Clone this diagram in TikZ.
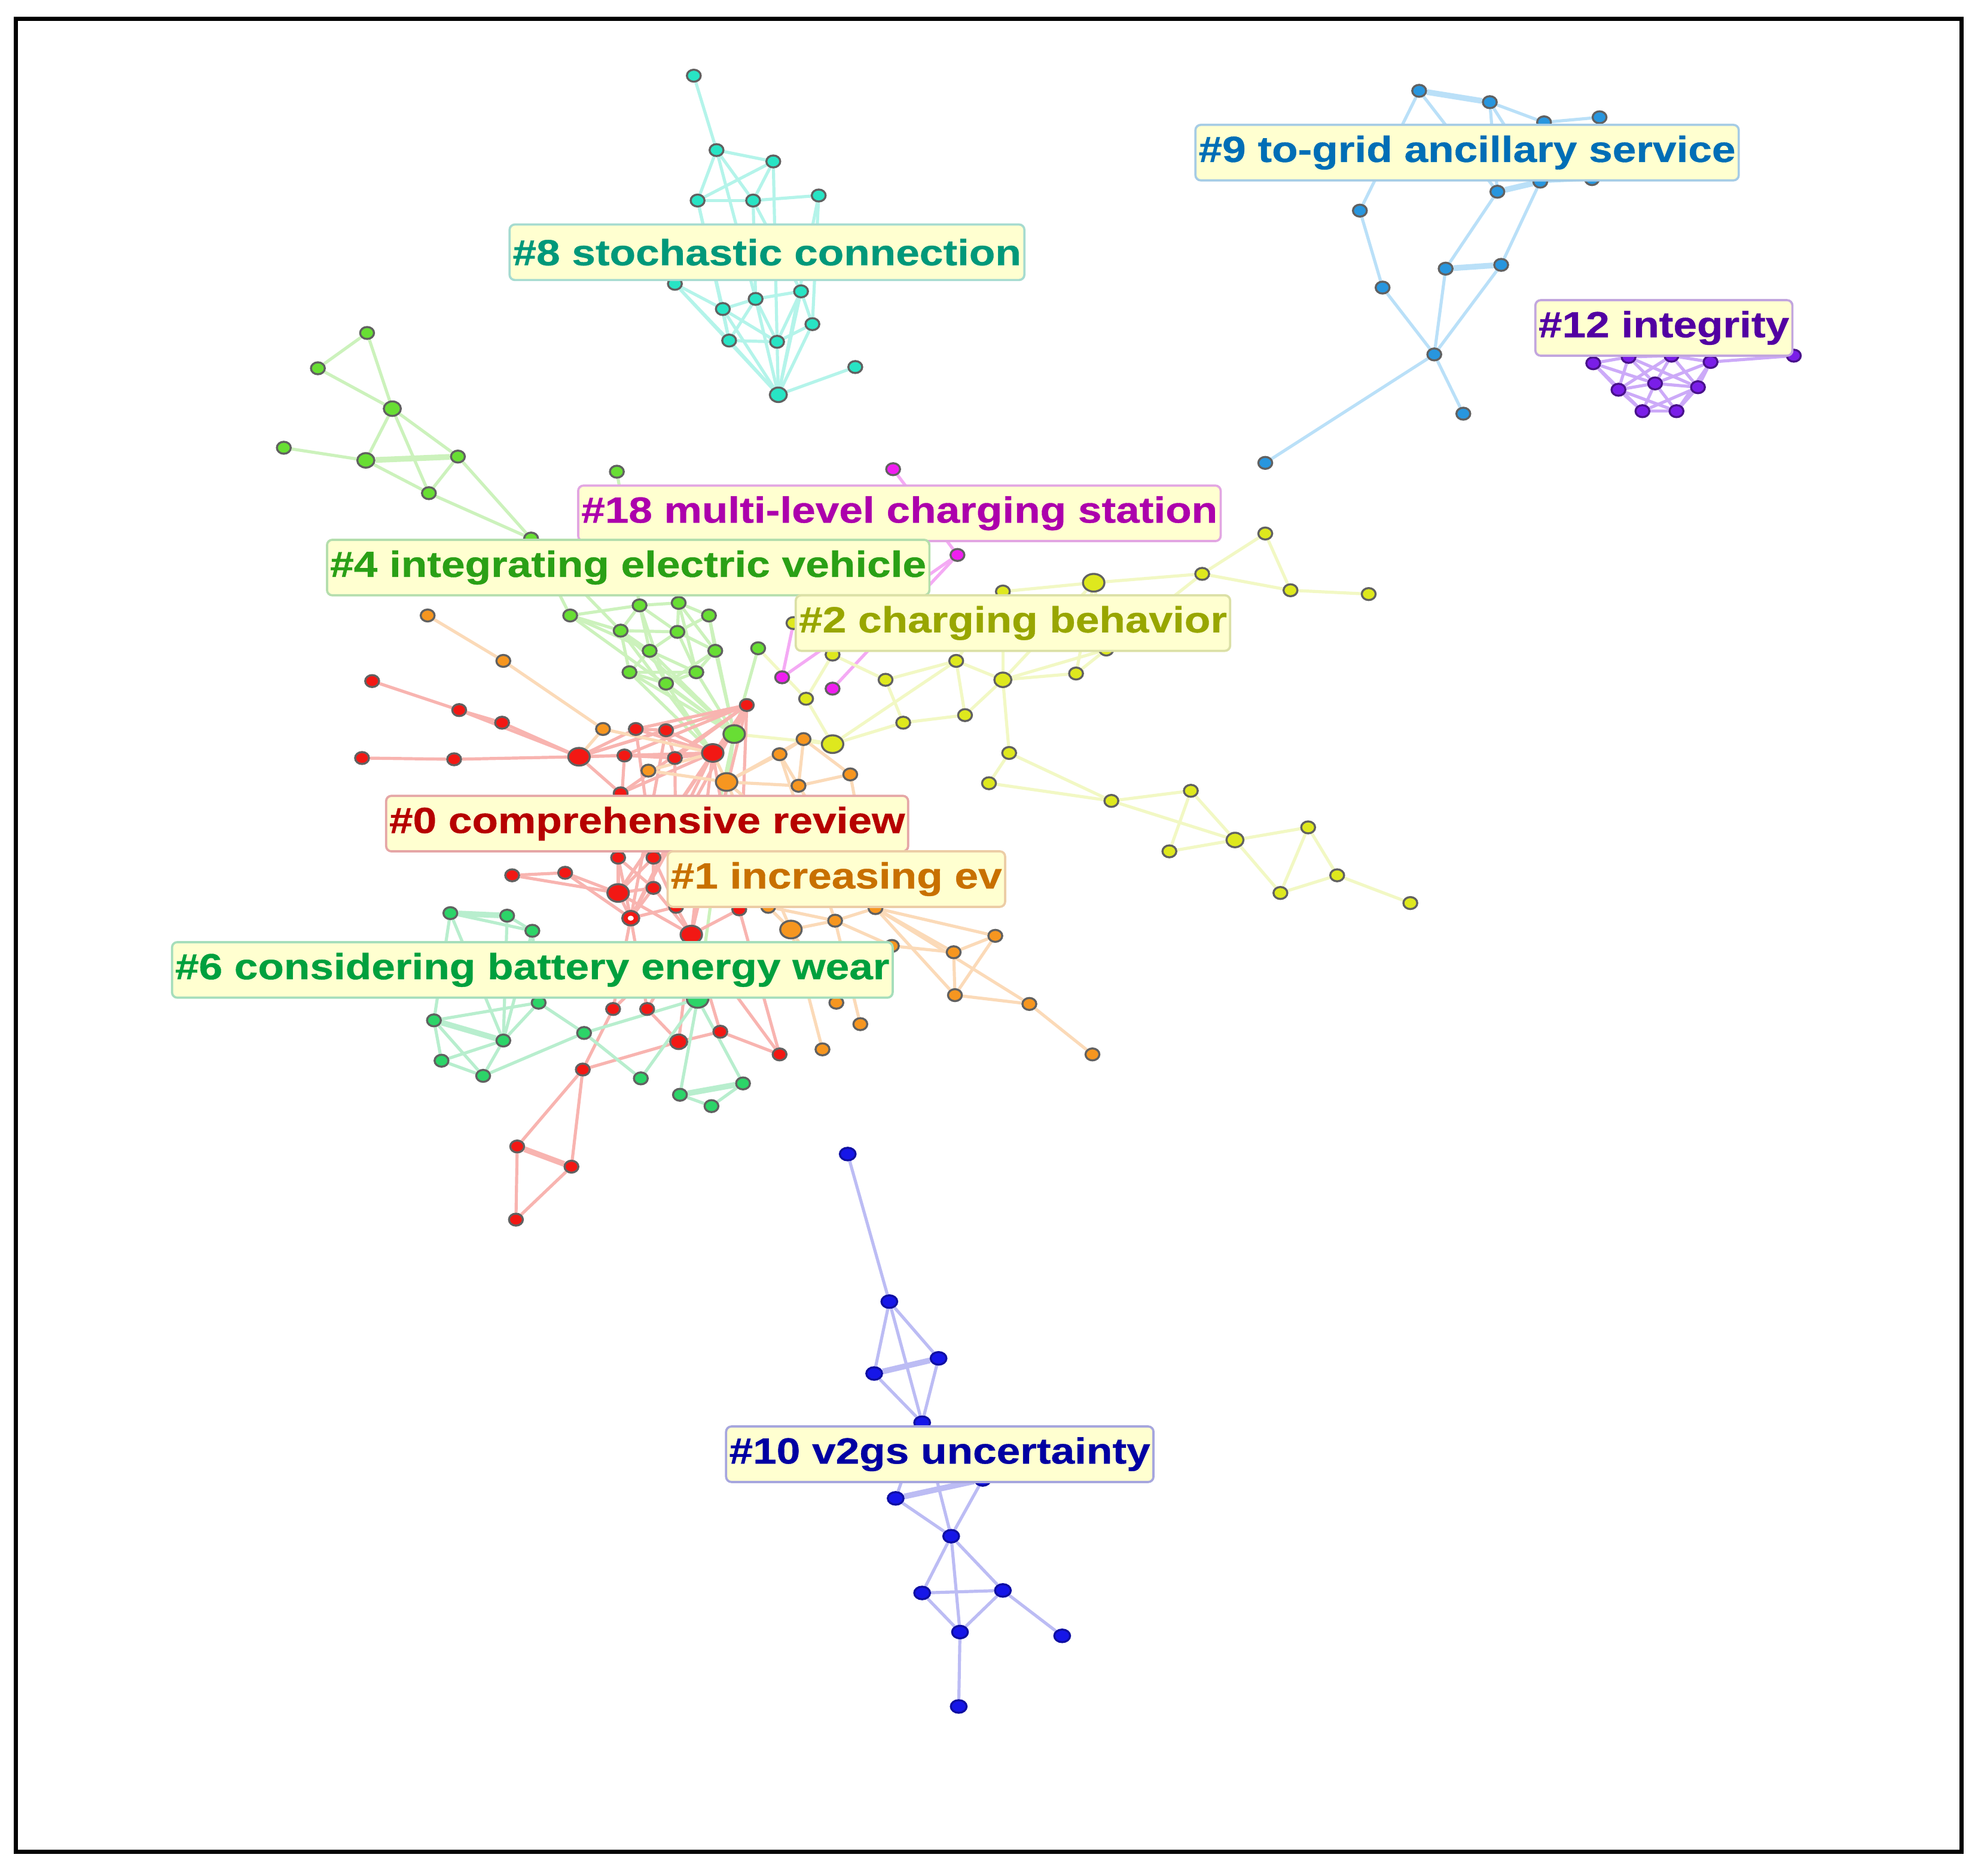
\documentclass[tikz,border=0pt]{standalone}
\usepackage{fontspec}
\usetikzlibrary{shapes.geometric}
\newfontfamily\lblfont{Liberation Sans}[FakeStretch=1.17,FakeBold=0.6]
\pgfdeclarelayer{bg}
\pgfsetlayers{bg,main}
\definecolor{labfill}{RGB}{255,255,208}
% node fills
\definecolor{nT}{RGB}{40,228,196}
\definecolor{nB}{RGB}{40,150,222}
\definecolor{nP}{RGB}{122,30,232}
\definecolor{nG}{RGB}{104,222,52}
\definecolor{nY}{RGB}{222,232,30}
\definecolor{nR}{RGB}{242,24,20}
\definecolor{nO}{RGB}{246,150,32}
\definecolor{nS}{RGB}{44,212,104}
\definecolor{nV}{RGB}{22,22,232}
\definecolor{nM}{RGB}{240,30,240}
% edge colours
\definecolor{eT}{RGB}{180,244,234}
\definecolor{eB}{RGB}{186,224,248}
\definecolor{eP}{RGB}{204,170,248}
\definecolor{eG}{RGB}{204,242,188}
\definecolor{eY}{RGB}{242,248,196}
\definecolor{eR}{RGB}{248,180,176}
\definecolor{eO}{RGB}{251,218,184}
\definecolor{eS}{RGB}{184,238,206}
\definecolor{eV}{RGB}{188,188,244}
\definecolor{eM}{RGB}{244,170,244}
% label text colours
\definecolor{tT}{RGB}{0,152,122}
\definecolor{tB}{RGB}{0,110,182}
\definecolor{tP}{RGB}{82,0,162}
\definecolor{tM}{RGB}{172,0,172}
\definecolor{tG}{RGB}{42,160,22}
\definecolor{tY}{RGB}{152,166,0}
\definecolor{tR}{RGB}{182,0,0}
\definecolor{tO}{RGB}{200,112,0}
\definecolor{tS}{RGB}{0,160,62}
\definecolor{tV}{RGB}{0,0,162}
\tikzset{
  dot/.style={ellipse, draw=black!62, line width=0.45pt, inner sep=0pt,
    minimum width=0.11cm, minimum height=0.095cm},
  med/.style={minimum width=0.135cm, minimum height=0.115cm},
  big/.style={minimum width=0.17cm, minimum height=0.14cm},
  ed/.style={line width=0.7pt},
  thk/.style={line width=1.3pt},
  lab/.style={rectangle, rounded corners=1.2pt, fill=labfill, line width=0.5pt,
    inner xsep=0.025cm, inner ysep=0pt, minimum height=0.44cm,
    font=\lblfont\bfseries\fontsize{8.2}{8.2}\selectfont},
}
\begin{document}
\begin{tikzpicture}[x=0.01cm,y=-0.01cm]
\useasboundingbox (0,0) rectangle (1568,1487);
\draw[line width=0.95pt] (12.6,15) rectangle (1555,1468);

% ---------------- cluster #8 (teal)
\foreach \n/\x/\y in {t1/550/60,t2/568/119,t3/613/128,t4/553/159,t5/597/159,t6/649/155,
  t7/535/225,t8/573/245,t9/599/237,t10/635/231,t11/644/257,t12/578/270,t13/616/271,t14/678/291}
  \node[dot,fill=nT] (\n) at (\x,\y) {};
\node[dot,med,fill=nT] (t15) at (617,313) {};
% ---------------- cluster #9
\foreach \n/\x/\y in {b1/1125/72,b2/1181/81,b3/1224/97,b4/1268/93,b5/1187/152,b6/1221/144,b7/1262/142,
  b8/1078/167,b9/1146/213,b10/1190/210,b11/1096/228,b12/1137/281,b13/1160/328,b14/1003/367}
  \node[dot,fill=nB] (\n) at (\x,\y) {};
% ---------------- cluster #12
\foreach \n/\x/\y in {p1/1263/288,p2/1291/283,p3/1325/282,p4/1356/287,p5/1422/282,p6/1283/309,
  p7/1312/304,p8/1346/307,p9/1302/326,p10/1329/326}
  \node[dot,fill=nP,draw=nP!60!black] (\n) at (\x,\y) {};
% ---------------- green upper group and #4
\foreach \n/\x/\y in {g1/291/264,g2/252/292,g4/225/355,g6/363/362,g7/340/391,g8/489/374,g9/421/427,
  h1/452/488,h2/507/480,h3/538/478,h4/562/488,h5/492/500,h6/537/501,h7/515/516,h8/567/516,h9/601/514,
  h10/499/533,h11/552/533,h12/528/542}
  \node[dot,fill=nG] (\n) at (\x,\y) {};
\node[dot,med,fill=nG] (g3) at (311,324) {};
\node[dot,med,fill=nG] (g5) at (290,365) {};
\node[dot,big,fill=nG] (h13) at (582,582) {};
% ---------------- #18 magenta
\foreach \n/\x/\y in {m1/708/372,m2/759/440,m3/620/537,m4/660/546}
  \node[dot,fill=nM] (\n) at (\x,\y) {};
% ---------------- #2 yellow
\foreach \n/\x/\y in {y1/1003/423,y2/953/455,y4/1023/468,y5/1085/471,y6/795/469,y7/629/494,y8/877/515,
  y9/660/519,y10/758/524,y11/702/539,y13/853/534,y14/639/554,y15/716/573,y16/765/567,y18/800/597,
  y19/784/621,y20/881/635,y21/944/627,y23/1037/656,y24/927/675,y25/1060/694,y26/1015/708,y27/1118/716}
  \node[dot,fill=nY] (\n) at (\x,\y) {};
\node[dot,big,fill=nY] (y3) at (867,462) {};
\node[dot,med,fill=nY] (y12) at (795,539) {};
\node[dot,big,fill=nY] (y17) at (660,590) {};
\node[dot,med,fill=nY] (y22) at (979,666) {};
% ---------------- #0 red
\foreach \n/\x/\y in {r1/295/540,r2/287/601,r3/360/602,r4/364/563,r5/398/573,r7/495/599,r8/504/578,
  r9/528/579,r10/535/601,r12/592/559,r13/492/629,r14/490/680,r15/518/680,r16/406/694,r17/448/692,
  r19/518/704,r21/536/719,r22/586/721,r24/486/800,r25/513/800,r27/571/818,r28/618/836,
  r29/462/848,r30/410/909,r31/453/925,r32/409/967}
  \node[dot,fill=nR] (\n) at (\x,\y) {};
\node[dot,big,fill=nR] (r6) at (459,600) {};
\node[dot,big,fill=nR] (r11) at (565,597) {};
\node[dot,big,fill=nR] (r18) at (490,708) {};
\node[dot,med,fill=nR] (r20) at (500,728) {};
\fill[white] (r20.center) ellipse (2.4 and 2);
\node[dot,big,fill=nR] (r23) at (548,741) {};
\node[dot,med,fill=nR] (r26) at (538,826) {};
% ---------------- #1 orange
\foreach \n/\x/\y in {o1/339/488,o2/399/524,o3/478/578,o4/514/611,o6/637/586,o7/618/598,o8/674/614,
  o9/633/623,o10/609/719,o12/662/730,o13/694/720,o14/707/750,o15/756/755,o16/789/742,o17/757/789,
  o18/816/796,o19/663/795,o20/682/812,o21/652/832,o22/866/836}
  \node[dot,fill=nO] (\n) at (\x,\y) {};
\node[dot,big,fill=nO] (o5) at (576,620) {};
\node[dot,big,fill=nO] (o11) at (627,737) {};
% ---------------- #6 green
\foreach \n/\x/\y in {s1/357/724,s2/402/726,s3/422/738,s4/427/795,s5/344/809,s6/399/825,s7/463/819,
  s8/350/841,s9/383/853,s10/508/855,s11/589/859,s12/539/868,s13/564/877}
  \node[dot,fill=nS] (\n) at (\x,\y) {};
\node[dot,big,fill=nS] (s14) at (553,792) {};
% ---------------- #10 blue
\foreach \n/\x/\y in {v1/672/915,v2/705/1032,v3/744/1077,v4/693/1089,v5/731/1128,v6/779/1173,
  v7/710/1188,v8/754/1218,v9/731/1263,v10/795/1261,v11/761/1294,v12/842/1297,v13/760/1353}
  \node[dot,minimum width=0.125cm,minimum height=0.1cm,fill=nV,draw=nV!70!black] (\n) at (\x,\y) {};

% ================= edges
\begin{pgfonlayer}{bg}
\foreach \a/\b in {t1/t2,t2/t3,t2/t4,t2/t5,t3/t4,t3/t5,t4/t5,t5/t6,t4/t8,t5/t9,t6/t11,t5/t10,t3/t13,
  t7/t8,t7/t12,t7/t15,t8/t9,t8/t12,t8/t13,t8/t15,t9/t10,t9/t12,t9/t13,t9/t15,t10/t11,t10/t13,t11/t13,
  t11/t15,t12/t13,t12/t15,t13/t15,t14/t15,t10/t15,t6/t15,t4/t12,t2/t9}
  \draw[ed,eT] (\a) -- (\b);
\foreach \a/\b in {b1/b8,b1/b5,b2/b5,b2/b3,b3/b4,b3/b6,b4/b7,b6/b7,b5/b9,b6/b10,b8/b11,b11/b12,
  b9/b12,b10/b12,b12/b13,b12/b14,b2/b6}
  \draw[ed,eB] (\a) -- (\b);
\foreach \a/\b in {b1/b2,b5/b6,b9/b10}
  \draw[thk,eB] (\a) -- (\b);
\foreach \a/\b in {p1/p2,p2/p3,p3/p4,p1/p6,p2/p6,p2/p7,p3/p7,p3/p8,p4/p8,p6/p7,p7/p8,p6/p9,p7/p9,
  p7/p10,p8/p10,p9/p10,p1/p7,p2/p8,p3/p6,p4/p7,p6/p10,p8/p9,p1/p9,p4/p10,p4/p5}
  \draw[ed,eP] (\a) -- (\b);
\foreach \a/\b in {g1/g2,g1/g3,g2/g3,g3/g5,g3/g6,g3/g7,g4/g5,g5/g7,g6/g7,g6/g9,g7/g9,g9/h1,g9/h5,
  h1/h2,h1/h5,h2/h3,h2/h5,h2/h6,h2/h7,h3/h4,h3/h6,h3/h8,h4/h6,h4/h8,h5/h6,h5/h7,h5/h10,h6/h7,h6/h8,
  h6/h11,h7/h10,h7/h11,h7/h12,h8/h11,h8/h12,h10/h12,h11/h12,h10/h11,h2/h12,h3/h11,h1/h7,
  h10/h13,h11/h13,h12/h13,h7/h13,h5/h13,h1/h13,h9/h13,h8/h13,h4/h13,h10/r11,h12/r11,h5/r11,g8/h2,
  h13/s14,h13/r23}
  \draw[ed,eG] (\a) -- (\b);
\draw[thk,eG] (g5) -- (g6);
\foreach \a/\b in {m1/m2,m2/m4,m3/m2,m3/y7}
  \draw[ed,eM] (\a) -- (\b);
\foreach \a/\b in {y1/y2,y2/y3,y2/y4,y1/y4,y4/y5,y3/y6,y3/y8,y3/y13,y6/y12,y6/y10,y8/y13,y8/y12,
  y12/y13,y10/y12,y10/y11,y9/y11,y7/y9,y9/y14,y11/y15,y10/y16,y15/y16,y14/y17,y17/y15,y17/y10,
  y12/y18,y18/y19,y18/y20,y19/y20,y20/y21,y20/y22,y21/y22,y21/y24,y22/y24,y22/y23,y22/y26,y23/y25,
  y23/y26,y25/y26,y25/y27,y16/y12,y8/y2,y17/o6,y17/h13,y14/h9,y3/y12}
  \draw[ed,eY] (\a) -- (\b);
\foreach \a/\b in {r1/r4,r4/r6,r2/r3,r3/r6,r4/r5,r5/r6,r6/r7,r6/r8,r6/r11,r6/r12,r7/r11,r8/r11,
  r9/r11,r10/r11,r8/r12,r9/r12,r7/r12,r10/r12,r6/r13,r11/r13,r12/r13,r13/r14,r13/r18,r11/r18,r12/r18,
  r11/r20,r12/r20,r11/r23,r12/r23,r14/r18,r15/r18,r16/r18,r17/r18,r18/r19,r18/r20,r19/r20,r20/r21,
  r18/r23,r19/r23,r21/r23,r22/r23,r15/r21,r14/r20,r23/r24,r23/r25,r20/r24,r20/r25,r23/r26,r23/r27,
  r22/r28,r23/r28,r26/r27,r27/r28,r25/r26,r24/r29,r26/r29,r29/r30,r29/r31,r30/r32,r31/r32,
  r16/r17,r11/r22,r12/r22,r10/r21,r9/r20,r7/r14,r8/r15,r12/h13,r11/h13,r6/r9,r7/r10,r8/r9,r9/r10,
  r13/r15,r14/r19,r15/r19,r17/r20}
  \draw[ed,eR] (\a) -- (\b);
\draw[thk,eR] (r30) -- (r31);
\foreach \a/\b in {o1/o2,o2/o3,o3/r11,o6/o7,o6/o8,o7/o9,o6/o9,o8/o9,o5/o7,o5/o9,o5/o6,o5/r11,o4/o5,
  o4/r11,o10/o11,o11/o12,o12/o13,o10/o12,o13/o15,o13/o16,o13/o17,o15/o16,o15/o17,o16/o17,o17/o18,
  o18/o22,o13/o18,o11/o19,o12/o20,o11/o21,o14/o15,o14/o12,o5/o11,o9/o13,o5/o13,o7/o12,o8/o13,o3/r6}
  \draw[ed,eO] (\a) -- (\b);
\foreach \a/\b in {s1/s3,s2/s3,s1/s5,s2/s6,s3/s4,s5/s8,s6/s8,s8/s9,s6/s9,s4/s6,s4/s7,s5/s9,s7/s10,
  s14/s10,s14/s12,s14/s11,s12/s13,s11/s13,s14/s7,s3/s6,s4/s5,s7/s9,s14/r23,s1/s6}
  \draw[ed,eS] (\a) -- (\b);
\foreach \a/\b in {s1/s2,s5/s6,s12/s11}
  \draw[thk,eS] (\a) -- (\b);
\foreach \a/\b in {v1/v2,v2/v3,v2/v4,v2/v5,v4/v5,v3/v5,v5/v7,v7/v8,v6/v8,v5/v8,v8/v9,v8/v10,v8/v11,
  v9/v10,v9/v11,v10/v11,v10/v12,v11/v13}
  \draw[ed,eV] (\a) -- (\b);
\foreach \a/\b in {v4/v3,v7/v6}
  \draw[thk,eV] (\a) -- (\b);
\end{pgfonlayer}

% ================= labels
\node[lab,text=tT,draw=tT!35] (l8) at (608,200) {\#8 stochastic connection};
\node[lab,text=tB,draw=tB!35] (l9) at (1163,121) {\#9 to-grid ancillary service};
\node[lab,text=tP,draw=tP!35] (l12) at (1319,260) {\#12 integrity};
\node[lab,text=tM,draw=tM!35] (l18) at (713,407) {\#18 multi-level charging station};
\node[lab,text=tG,draw=tG!35] (l4) at (498,450) {\#4 integrating electric vehicle};
\node[lab,text=tY,draw=tY!35] (l2) at (803,494) {\#2 charging behavior};
\node[lab,text=tR,draw=tR!35] (l0) at (513,653) {\#0 comprehensive review};
\node[lab,text=tO,draw=tO!35] (l1) at (663,697) {\#1 increasing ev};
\node[lab,text=tS,draw=tS!35] (l6) at (422,769) {\#6 considering battery energy wear};
\node[lab,text=tV,draw=tV!35] (l10) at (745,1153) {\#10 v2gs uncertainty};
\end{tikzpicture}
\end{document}
